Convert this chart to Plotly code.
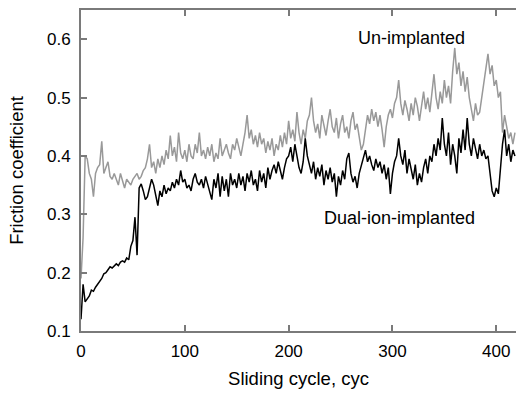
import plotly.graph_objects as go

cycles = list(range(0, 420, 2))

dual_ion = [
    0.12, 0.18, 0.15, 0.155, 0.16, 0.17, 0.168, 0.175, 0.18, 0.185,
    0.19, 0.198, 0.20, 0.205, 0.21, 0.208, 0.212, 0.215, 0.212, 0.218,
    0.22, 0.218, 0.225, 0.222, 0.245, 0.255, 0.295, 0.23, 0.345, 0.352,
    0.34, 0.325, 0.33, 0.345, 0.36, 0.35, 0.33, 0.315, 0.34, 0.33,
    0.35, 0.335, 0.345, 0.34, 0.355, 0.345, 0.36, 0.35, 0.375, 0.355,
    0.36, 0.345, 0.35, 0.34, 0.36, 0.37, 0.355, 0.35, 0.36, 0.345,
    0.365, 0.35, 0.335, 0.325, 0.36, 0.345, 0.37, 0.33, 0.365, 0.34,
    0.36, 0.33, 0.37, 0.35, 0.36, 0.345, 0.37, 0.35, 0.365, 0.34,
    0.37, 0.355, 0.375, 0.35, 0.36, 0.34, 0.375, 0.355, 0.37, 0.345,
    0.38, 0.36, 0.375, 0.385, 0.37, 0.39, 0.375, 0.36, 0.38, 0.395,
    0.40, 0.415, 0.39, 0.42, 0.40, 0.38, 0.37, 0.39, 0.43, 0.40,
    0.385, 0.37, 0.39, 0.36, 0.38, 0.365, 0.385, 0.35, 0.375, 0.36,
    0.38, 0.355, 0.37, 0.33, 0.365, 0.35, 0.375, 0.36, 0.395, 0.405,
    0.37, 0.355, 0.365, 0.345, 0.37, 0.385, 0.40, 0.41, 0.39, 0.40,
    0.385, 0.375, 0.395, 0.38, 0.39, 0.37, 0.385, 0.36, 0.38, 0.335,
    0.37, 0.39, 0.40, 0.43, 0.40, 0.385, 0.41, 0.37, 0.395, 0.375,
    0.36, 0.385, 0.35, 0.37, 0.355, 0.38, 0.395, 0.37, 0.40, 0.39,
    0.42, 0.40, 0.43, 0.41, 0.465, 0.42, 0.40, 0.44, 0.385, 0.42,
    0.40, 0.37, 0.43, 0.405, 0.445, 0.41, 0.465, 0.42, 0.40, 0.43,
    0.41, 0.395, 0.42, 0.40, 0.41, 0.395, 0.40, 0.37, 0.34, 0.33,
    0.345, 0.335, 0.38, 0.42, 0.445, 0.40, 0.42, 0.39, 0.41, 0.40,
]

un_implanted = [
    0.19, 0.26, 0.40, 0.395, 0.37, 0.36, 0.33, 0.37, 0.38, 0.385,
    0.425, 0.37, 0.38, 0.39, 0.365, 0.36, 0.37, 0.36, 0.35, 0.37,
    0.355, 0.345, 0.36, 0.355, 0.35, 0.36, 0.365, 0.37, 0.36, 0.365,
    0.375, 0.38, 0.395, 0.42, 0.38, 0.39, 0.37, 0.395, 0.38, 0.40,
    0.385, 0.41, 0.395, 0.435, 0.40, 0.415, 0.39, 0.44, 0.405, 0.395,
    0.41, 0.39, 0.42, 0.40, 0.395, 0.42, 0.405, 0.44, 0.40, 0.41,
    0.395, 0.415, 0.40, 0.42, 0.39, 0.405, 0.395, 0.43, 0.40, 0.41,
    0.42, 0.405, 0.395, 0.42, 0.41, 0.43, 0.415, 0.40, 0.42, 0.44,
    0.47, 0.43, 0.445, 0.42, 0.435, 0.415, 0.44, 0.42, 0.43, 0.405,
    0.425, 0.41, 0.43, 0.40, 0.42, 0.41, 0.435, 0.415, 0.44, 0.42,
    0.46, 0.43, 0.445, 0.425, 0.475, 0.44, 0.42, 0.445, 0.43, 0.46,
    0.47, 0.50, 0.46, 0.44, 0.455, 0.43, 0.47, 0.45, 0.435, 0.46,
    0.48, 0.45, 0.44, 0.465, 0.43, 0.455, 0.47, 0.44, 0.45, 0.43,
    0.46, 0.475, 0.445, 0.455, 0.43, 0.41, 0.42, 0.445, 0.47, 0.455,
    0.48, 0.46, 0.475, 0.45, 0.47, 0.445, 0.415, 0.45, 0.47, 0.48,
    0.465, 0.49, 0.50, 0.53, 0.49, 0.47, 0.495, 0.48, 0.46, 0.49,
    0.47, 0.50, 0.485, 0.46, 0.49, 0.51, 0.48, 0.50, 0.475, 0.505,
    0.54, 0.50, 0.48, 0.51, 0.49, 0.53, 0.50, 0.52, 0.49, 0.545,
    0.585, 0.54, 0.56, 0.52, 0.545, 0.51, 0.535, 0.50, 0.48, 0.46,
    0.49, 0.47, 0.475, 0.50, 0.52, 0.55, 0.575, 0.54, 0.555, 0.52,
    0.53, 0.50, 0.51, 0.44, 0.47, 0.45, 0.43, 0.44, 0.42, 0.44,
]

x_ticks = [0, 100, 200, 300, 400]
y_ticks = [0.1, 0.2, 0.3, 0.4, 0.5, 0.6]

font = "Liberation Sans, Arial, sans-serif"
axis_color = "#7a7a7a"

fig = go.Figure()
fig.add_trace(go.Scatter(x=cycles, y=un_implanted, mode="lines",
                         line=dict(color="#999999", width=1.5),
                         name="Un-implanted", showlegend=False))
fig.add_trace(go.Scatter(x=cycles, y=dual_ion, mode="lines",
                         line=dict(color="#000000", width=1.5),
                         name="Dual-ion-implanted", showlegend=False))

fig.add_annotation(x=318, y=0.602, text="Un-implanted", showarrow=False,
                   font=dict(family=font, size=18, color="black"))
fig.add_annotation(x=307, y=0.293, text="Dual-ion-implanted", showarrow=False,
                   font=dict(family=font, size=18, color="black"))

fig.update_layout(
    width=516, height=393,
    margin=dict(l=81, r=0, t=10, b=62),
    paper_bgcolor="white", plot_bgcolor="white",
    font=dict(family=font, size=16, color="black"),
    xaxis=dict(range=[0, 419], tickvals=x_ticks, ticks="inside", ticklen=6,
               tickcolor=axis_color, tickwidth=1.5,
               tickfont=dict(family=font, size=17, color="black"),
               ticklabelstandoff=4,
               showline=True, linecolor=axis_color, linewidth=2,
               mirror="ticks", showgrid=False, zeroline=False,
               title=dict(text="Sliding cycle, cyc", standoff=12,
                          font=dict(family=font, size=18.5, color="black"))),
    yaxis=dict(range=[0.1, 0.65], tickvals=y_ticks, tickformat=".1f",
               ticks="inside", ticklen=6, tickcolor=axis_color, tickwidth=1.5,
               tickfont=dict(family=font, size=17, color="black"),
               ticklabelstandoff=5,
               showline=True, linecolor=axis_color, linewidth=2,
               mirror=False, showgrid=False, zeroline=False,
               title=dict(text="Friction coefficient", standoff=18,
                          font=dict(family=font, size=18.5, color="black"))),
)

fig.write_html("out.html")
